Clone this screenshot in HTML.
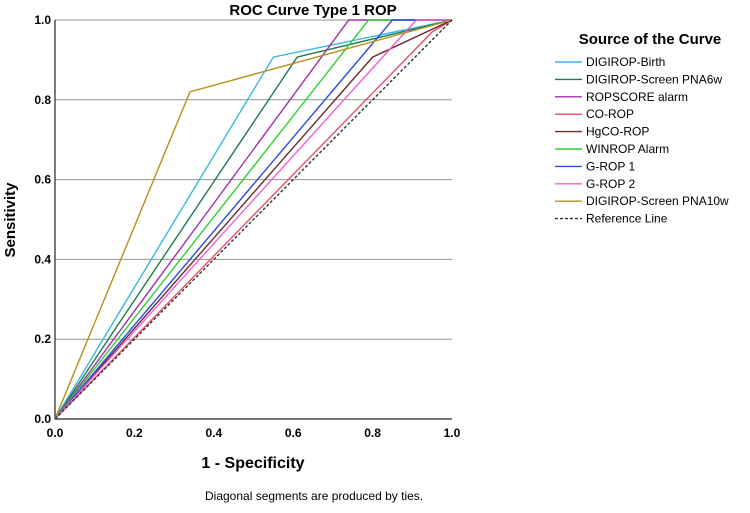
<!DOCTYPE html>
<html><head><style>
body{margin:0;background:#fff;font-family:"Liberation Sans",Arial,sans-serif}
svg text{font-family:"Liberation Sans",Arial,sans-serif}
</style></head><body>
<svg width="750" height="508" viewBox="0 0 750 508">
<text x="313" y="15" text-anchor="middle" font-size="15" font-weight="bold">ROC Curve Type 1 ROP</text>
<g id="grid"></g>
<g id="axes"></g>
<g id="series"></g>
<text transform="translate(15,220) rotate(-90)" text-anchor="middle" font-size="15" font-weight="bold">Sensitivity</text>
<text x="253" y="468" text-anchor="middle" font-size="16" font-weight="bold">1 - Specificity</text>
<text x="205" y="500" font-size="12">Diagonal segments are produced by ties.</text>
<text x="650" y="44" text-anchor="middle" font-size="15" font-weight="bold">Source of the Curve</text>
<g id="legend"></g>
</svg>
<script>
const seriesNames=["DIGIROP-Birth","DIGIROP-Screen PNA6w","ROPSCORE alarm","CO-ROP","HgCO-ROP","WINROP Alarm","G-ROP 1","G-ROP 2","DIGIROP-Screen PNA10w","Reference Line"];
const seriesColors=["#3cb8e0","#1e7a50","#a030a8","#e8506a","#6a2c2c","#30d030","#2a4ce0","#f060d8","#b89018","#333"];
const seriesFpr=[[0,0.55,1],[0,0.61,1],[0,0.74,1],[0,0.95,1],[0,0.80,1],[0,0.79,1],[0,0.85,1],[0,0.91,1],[0,0.34,1],[0,1]];
const seriesTpr=[[0,0.907,1],[0,0.907,1],[0,1,1],[0,0.97,1],[0,0.907,1],[0,1,1],[0,1,1],[0,1,1],[0,0.82,1],[0,1]];
const ticks=[0,0.2,0.4,0.6,0.8,1.0];
const X0=55,X1=452,Y0=419,Y1=20;
const sx=v=>X0+v*(X1-X0), sy=v=>Y0-v*(Y0-Y1);
const NS="http://www.w3.org/2000/svg";
function mk(t,a,p){const e=document.createElementNS(NS,t);for(const k in a)e.setAttribute(k,a[k]);p.appendChild(e);return e;}
const grid=document.getElementById('grid'),axes=document.getElementById('axes'),ser=document.getElementById('series'),leg=document.getElementById('legend');
ticks.forEach(t=>{
 if(t>0){const g=mk('line',{x1:X0,x2:X1,y1:sy(t),y2:sy(t),stroke:'#8f9a8f','stroke-width':1},grid);
 
 }
 const yl=mk('text',{x:X0-4,y:sy(t)+4,'text-anchor':'end','font-size':12,'font-weight':'bold'},axes);yl.textContent=t.toFixed(1);
 
 
 const xl=mk('text',{x:sx(t),y:Y0+18,'text-anchor':'middle','font-size':12,'font-weight':'bold'},axes);xl.textContent=t.toFixed(1);
 
 
});
const ax=mk('path',{d:`M${X0},${Y1}V${Y0}H${X1}`,fill:'none',stroke:'#222','stroke-width':1.2},axes);


seriesNames.forEach((n,i)=>{
 const pts=seriesFpr[i].map((f,j)=>sx(f)+','+sy(seriesTpr[i][j])).join(' ');
 const a={points:pts,fill:'none',stroke:seriesColors[i],'stroke-width':1.4};
 if(i==9)a['stroke-dasharray']='3,2';
 const p=mk('polyline',a,ser);
 
 
 const y=62+i*17.4;
 const la={x1:555,x2:582,y1:y,y2:y,stroke:seriesColors[i],'stroke-width':1.4};
 if(i==9)la['stroke-dasharray']='3,2';
 const ll=mk('line',la,leg);
 
 
 const lt=mk('text',{x:586,y:y+4,'font-size':12},leg);lt.textContent=n;
 
 
});
</script>
</body></html>
